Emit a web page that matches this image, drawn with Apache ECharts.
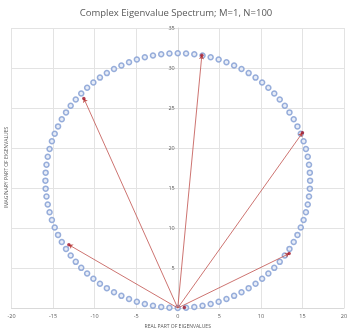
<!DOCTYPE html>
<html>
<head>
<meta charset="utf-8">
<script src="https://cdn.jsdelivr.net/npm/echarts@6/dist/echarts.min.js"></script>
<style>
html, body { margin: 0; padding: 0; background: #fff; }
#chart { width: 352px; height: 335px; }
</style>
</head>
<body>
<div id="chart"></div>
<script>
// eigenvalues (ring of N=100 points)
const realPart = [
  0, 1.00, 1.99, 2.98, 3.96, 4.92, 5.86, 6.78, 7.67, 8.53,
  9.36, 10.15, 10.90, 11.61, 12.27, 12.88, 13.44, 13.95, 14.40, 14.80,
  15.14, 15.42, 15.64, 15.79, 15.89, 15.92, 15.89, 15.79, 15.64, 15.42,
  15.14, 14.80, 14.40, 13.95, 13.44, 12.88, 12.27, 11.61, 10.90, 10.15,
  9.36, 8.53, 7.67, 6.78, 5.86, 4.92, 3.96, 2.98, 1.99, 1.00,
  0, -1.00, -1.99, -2.98, -3.96, -4.92, -5.86, -6.78, -7.67, -8.53,
  -9.36, -10.15, -10.90, -11.61, -12.27, -12.88, -13.44, -13.95, -14.40, -14.80,
  -15.14, -15.42, -15.64, -15.79, -15.89, -15.92, -15.89, -15.79, -15.64, -15.42,
  -15.14, -14.80, -14.40, -13.95, -13.44, -12.88, -12.27, -11.61, -10.90, -10.15,
  -9.36, -8.53, -7.67, -6.78, -5.86, -4.92, -3.96, -2.98, -1.99, -1.00
]
const imagPart = [
  0, 0.03, 0.13, 0.28, 0.50, 0.78, 1.12, 1.52, 1.97, 2.48,
  3.04, 3.65, 4.31, 5.02, 5.77, 6.56, 7.39, 8.25, 9.14, 10.06,
  11.00, 11.96, 12.94, 13.93, 14.92, 15.92, 16.92, 17.91, 18.90, 19.88,
  20.84, 21.78, 22.70, 23.59, 24.45, 25.28, 26.07, 26.82, 27.53, 28.19,
  28.80, 29.36, 29.87, 30.32, 30.72, 31.06, 31.34, 31.56, 31.71, 31.81,
  31.84, 31.81, 31.71, 31.56, 31.34, 31.06, 30.72, 30.32, 29.87, 29.36,
  28.80, 28.19, 27.53, 26.82, 26.07, 25.28, 24.45, 23.59, 22.70, 21.78,
  20.84, 19.88, 18.90, 17.91, 16.92, 15.92, 14.92, 13.93, 12.94, 11.96,
  11.00, 10.06, 9.14, 8.25, 7.39, 6.56, 5.77, 5.02, 4.31, 3.65,
  3.04, 2.48, 1.97, 1.52, 1.12, 0.78, 0.50, 0.28, 0.13, 0.03
]
// highlighted eigenvalues + the arrows drawn to them from the origin
const pickedReal = [-13.1, -11.3, 2.9, 15.0, 13.4, 0.8]
const pickedImag = [7.9, 26.2, 31.6, 21.9, 6.8, 0.05]
const arrowCount = 5
const origin = [0, 0]

const xTicks = { min: -20, max: 20, step: 5 }
const yTicks = { min: 0, max: 35, step: 5 }

const labelGray = '#595959'
const gridGray = '#e3e3e3'

// grid box, the y axis sits on x = 0 (middle of the plot)
const gridLeft = 11.5, gridRight = 8
const plotW = 352 - gridLeft - gridRight

const chart = echarts.init(document.getElementById('chart'))
chart.setOption({
  animation: false,
  title: {
    text: 'Complex Eigenvalue Spectrum; M=1, N=100',
    left: 'center', top: 3,
    textStyle: { color: labelGray, fontSize: 9.5, fontWeight: 'normal', fontFamily: 'Open Sans' }
  },
  grid: { left: gridLeft, right: gridRight, top: 28, bottom: 27 },
  xAxis: {
    type: 'value', min: xTicks.min, max: xTicks.max, interval: xTicks.step,
    name: 'REAL PART OF EIGENVALUES', nameLocation: 'middle', nameGap: 15,
    nameTextStyle: { color: labelGray, fontSize: 5, fontFamily: 'Open Sans' },
    axisLine: { lineStyle: { color: '#d9d9d9' } },
    axisTick: { show: false },
    axisLabel: { color: labelGray, fontSize: 5.5, margin: 5, fontFamily: 'Open Sans' },
    splitLine: { lineStyle: { color: gridGray } }
  },
  yAxis: {
    type: 'value', min: yTicks.min, max: yTicks.max, interval: yTicks.step,
    offset: -plotW / 2,
    axisLine: { show: true, onZero: false, lineStyle: { color: '#d9d9d9' } },
    axisTick: { show: false },
    axisLabel: { color: labelGray, fontSize: 5.5, margin: 3, showMinLabel: false, fontFamily: 'Open Sans' },
    splitLine: { lineStyle: { color: gridGray } }
  },
  graphic: [{
    type: 'text', left: 4, top: 'middle', rotation: Math.PI / 2,
    style: { text: 'IMAGINARY PART OF EIGENVALUES', fill: labelGray, fontSize: 5, fontFamily: 'Open Sans' }
  }],
  series: [
    {
      type: 'scatter',
      data: realPart.map((x, i) => [x, imagPart[i]]),
      symbol: 'circle', symbolSize: 5,
      itemStyle: { color: '#e4eaf6', borderColor: '#7f9bd2', borderWidth: 1.5 },
      z: 2
    },
    {
      type: 'lines', coordinateSystem: 'cartesian2d',
      data: pickedReal.slice(0, arrowCount).map((x, i) => ({ coords: [origin, [x, pickedImag[i]]] })),
      symbol: ['none', 'arrow'], symbolSize: 4,
      lineStyle: { color: '#c0504d', width: 0.8, opacity: 1 },
      z: 3
    },
    {
      type: 'scatter',
      data: pickedReal.map((x, i) => [x, pickedImag[i]]),
      symbolSize: 3.5,
      itemStyle: { color: '#a3162a' },
      z: 4
    }
  ]
})
</script>
</body>
</html>
